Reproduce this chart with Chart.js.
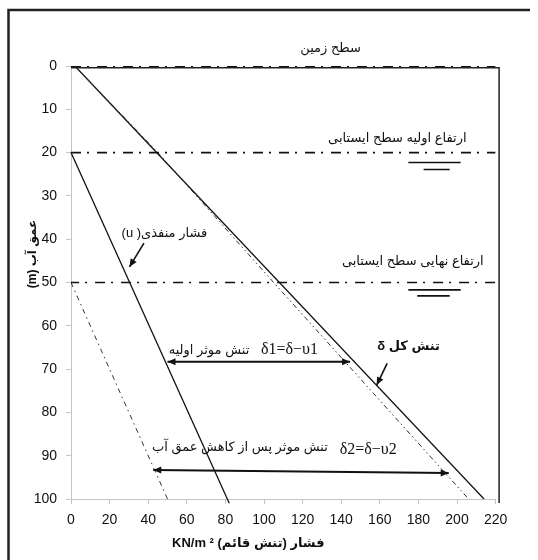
<!DOCTYPE html>
<html><head><meta charset="utf-8">
<script src="https://cdn.jsdelivr.net/npm/chart.js@4.4.0/dist/chart.umd.min.js"></script>
<style>html,body{margin:0;padding:0;background:#fff}#wrap{width:538px;height:560px;position:relative}</style>
</head><body><div id="wrap"><canvas id="c" width="538" height="560"></canvas></div>
<script>
// ---- data (x = pressure kN/m², y = depth m) ----
const xTickValues = [0,20,40,60,80,100,120,140,160,180,200,220];
const yTickValues = [0,10,20,30,40,50,60,70,80,90,100];
const totalStress = [{x:2,y:0},{x:214,y:100}];
const totalStressAfter = [{x:2,y:0},{x:45,y:20},{x:105,y:50},{x:206,y:100}];
const porePressureInitial = [{x:0,y:20},{x:82,y:101}];
const porePressureFinal = [{x:0,y:50},{x:50,y:100}];
const groundLevel = [{x:0,y:0},{x:220,y:0}];
const initialWaterTable = [{x:0,y:20},{x:220,y:20}];
const finalWaterTable = [{x:-1,y:50},{x:220,y:50}];
const wt1Upper = [{x:174.8,y:22.3},{x:201.9,y:22.3}];
const wt1Lower = [{x:182.7,y:23.9},{x:196.2,y:23.9}];
const wt2Upper = [{x:174.8,y:51.7},{x:201.9,y:51.7}];
const wt2Lower = [{x:179.4,y:53.1},{x:196.2,y:53.1}];
const arrowEff1 = [{x:50,y:68.3},{x:144.6,y:68.3}];
const arrowEff2 = [{x:42.6,y:93.3},{x:195.7,y:94.0}];
const arrowPore = [{x:37.8,y:40.9},{x:30.3,y:46.4}];
const arrowTotal = [{x:163.8,y:68.7},{x:158.4,y:73.7}];
const labelTexts = ['سطح زمین','ارتفاع اولیه سطح ایستابی','ارتفاع نهایی سطح ایستابی','فشار منفذی( u)','تنش موثر اولیه','δ1=δ−υ1','تنش کل δ','تنش موثر پس از کاهش عمق آب','δ2=δ−υ2'];
const labelX = [134.5,169.1,177.1,48.4,71.5,113.2,174.9,87.5,154];
const labelY = [-4.1,16.7,45.2,38.6,65.6,65.6,64.8,88.1,88.7];
const xTitle = 'فشار (تنش قائم) KN/m ²';
const yTitle = 'عمق آب (m)';

const PF = "'Liberation Sans','DejaVu Sans',sans-serif";
const SF = "'Liberation Serif','DejaVu Serif',serif";
const labelFonts = ['13px '+PF,'13px '+PF,'13px '+PF,'13px '+PF,'13px '+PF,'16px '+SF,'bold 13px '+PF,'13px '+PF,'16px '+SF];

function line(data, opts){
  return Object.assign({data, showLine:true, pointRadius:0, borderColor:'#111', borderWidth:1.3, fill:false}, opts||{});
}
const datasets = [
  line(groundLevel,{borderWidth:2.4, borderDash:[10,6,2,8], borderColor:'#111'}),
  line(initialWaterTable,{borderWidth:1.6, borderDash:[10,6,2,8]}),
  line(finalWaterTable,{borderWidth:1.6, borderDash:[10,6,2,8]}),
  line(totalStressAfter,{borderWidth:1, borderDash:[5,3,1.5,3,1.5,3], borderColor:'#333'}),
  line(totalStress,{borderWidth:1.3}),
  line(porePressureInitial,{borderWidth:1.3, clip:false}),
  line(porePressureFinal,{borderWidth:1, borderDash:[5,4,1.5,4], borderColor:'#333'}),
  line(wt1Upper,{borderWidth:1.6}),
  line(wt1Lower,{borderWidth:1.6}),
  line(wt2Upper,{borderWidth:1.6}),
  line(wt2Lower,{borderWidth:1.6}),
  line(arrowEff1,{borderWidth:1.8, arrow:'both'}),
  line(arrowEff2,{borderWidth:1.8, arrow:'both'}),
  line(arrowPore,{borderWidth:1.6, arrow:'end'}),
  line(arrowTotal,{borderWidth:1.6, arrow:'end'})
];

function head(ctx, x1,y1,x2,y2){
  const a=Math.atan2(y2-y1,x2-x1), L=8, W=3.5;
  ctx.beginPath();
  ctx.moveTo(x2,y2);
  ctx.lineTo(x2-L*Math.cos(a)+W*Math.sin(a), y2-L*Math.sin(a)-W*Math.cos(a));
  ctx.lineTo(x2-L*Math.cos(a)-W*Math.sin(a), y2-L*Math.sin(a)+W*Math.cos(a));
  ctx.closePath(); ctx.fill();
}

const deco = {
  id:'deco',
  afterDatasetsDraw(chart){
    const ctx=chart.ctx, xs=chart.scales.x, ys=chart.scales.y, ca=chart.chartArea;
    ctx.save();
    ctx.fillStyle='#111';
    chart.data.datasets.forEach(ds=>{
      if(!ds.arrow) return;
      const p=ds.data.map(d=>[xs.getPixelForValue(d.x), ys.getPixelForValue(d.y)]);
      const n=p.length-1;
      head(ctx,p[n-1][0],p[n-1][1],p[n][0],p[n][1]);
      if(ds.arrow==='both') head(ctx,p[1][0],p[1][1],p[0][0],p[0][1]);
    });
    // plot border (top & right)
    ctx.strokeStyle='#222'; ctx.lineWidth=1.5;
    ctx.beginPath();
    ctx.moveTo(ca.left, ca.top+1.8); ctx.lineTo(ca.right+3.5, ca.top+1.8); ctx.lineTo(ca.right+3.5, ca.bottom+4);
    ctx.stroke();
    // labels
    ctx.fillStyle='#111'; ctx.textAlign='center'; ctx.textBaseline='middle';
    labelTexts.forEach((t,i)=>{
      ctx.font=labelFonts[i];
      ctx.direction = /[\u0600-\u06FF]/.test(t) ? 'rtl' : 'ltr';
      ctx.fillText(t, xs.getPixelForValue(labelX[i]), ys.getPixelForValue(labelY[i]));
    });
    // axis titles
    ctx.direction='rtl';
    ctx.font='bold 13px '+PF;
    ctx.fillText(xTitle, (xs.getPixelForValue(0)+xs.getPixelForValue(220))/2 - 35, 543);
    ctx.save();
    ctx.translate(33, 254); ctx.rotate(-Math.PI/2);
    ctx.font='bold 12px '+PF;
    ctx.fillText(yTitle,0,0);
    ctx.restore();
    // outer frame
    ctx.strokeStyle='#222'; ctx.lineWidth=2.5;
    ctx.beginPath(); ctx.moveTo(8.5,562); ctx.lineTo(8.5,10); ctx.lineTo(530,10); ctx.stroke();
    ctx.restore();
  }
};

new Chart(document.getElementById('c'),{
  type:'scatter',
  data:{datasets},
  options:{
    responsive:false, animation:false, devicePixelRatio:1,
    layout:{padding:{top:66,right:42.4,left:0,bottom:0}},
    plugins:{legend:{display:false},tooltip:{enabled:false}},
    scales:{
      x:{type:'linear',min:0,max:220,
        afterBuildTicks:s=>{s.ticks=xTickValues.map(v=>({value:v}));},
        afterFit:s=>{s.height=61;},
        ticks:{font:{family:PF,size:14},color:'#111',padding:8,maxRotation:0,autoSkip:false},
        grid:{drawOnChartArea:false,drawTicks:true,tickLength:5,tickColor:'#c4c4c4'},
        border:{display:true,color:'#c4c4c4',width:1}},
      y:{type:'linear',min:0,max:100,reverse:true,
        afterBuildTicks:s=>{s.ticks=yTickValues.map(v=>({value:v}));},
        afterFit:s=>{s.width=71;},
        ticks:{font:{family:PF,size:14},color:'#111',padding:9,autoSkip:false},
        grid:{drawOnChartArea:false,drawTicks:true,tickLength:5,tickColor:'#c4c4c4'},
        border:{display:true,color:'#c4c4c4',width:1}}
    }
  },
  plugins:[deco]
});
</script></body></html>
